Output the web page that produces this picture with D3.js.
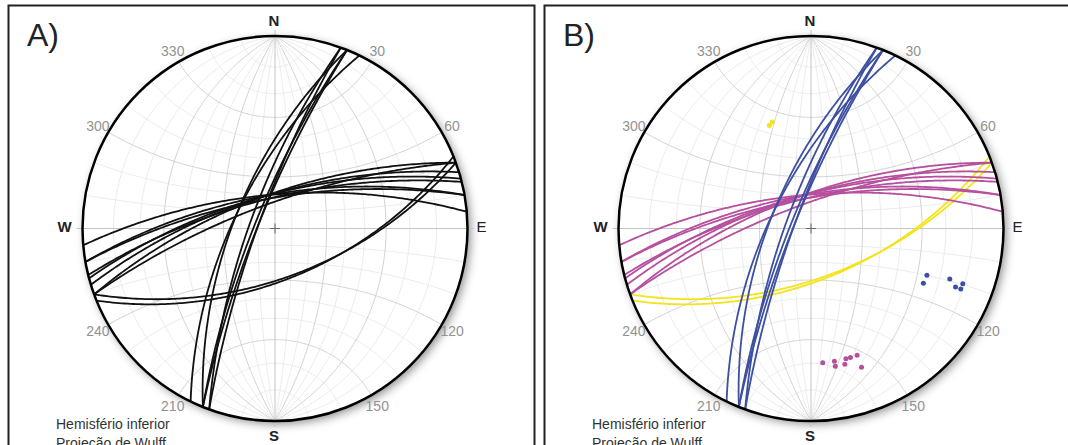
<!DOCTYPE html>
<html lang="en">
<head>
<meta charset="utf-8">
<script src="https://d3js.org/d3.v7.min.js"></script>
<style>
    body { margin: 0; background: #fff; }
    svg { display: block; font-family: "Liberation Sans", Arial, sans-serif; }
</style>
</head>
<body>
<script>
    // planes: dip direction / dip, degrees
    var blueDipDir = [296, 292, 290, 292, 292, 290];
    var blueDip = [66, 66, 75, 78, 80, 80];
    var pinkDipDir = [355, 350, 350, 345, 346, 343, 340, 340];
    var pinkDip = [70, 70, 72, 70, 72, 70, 70, 75];
    var yellowDipDir = [158, 160];
    var yellowDip = [60, 61];

    var degLabels = [30, 60, 120, 150, 210, 240, 300, 330];
    var panelLabels = ["A)", "B)"];
    var legendLines = ["Hemisfério inferior", "Projeção de Wulff"];

    var width = 1068, height = 445;
    var R = 192.5;
    var rad = Math.PI / 180;

    var svg = d3.select("body").append("svg")
        .attr("width", width)
        .attr("height", height);

    var defs = svg.append("defs");
    defs.append("filter")
        .attr("id", "shadow")
        .attr("x", "-20%").attr("y", "-20%")
        .attr("width", "140%").attr("height", "140%")
        .append("feDropShadow")
        .attr("dx", 3).attr("dy", 3)
        .attr("stdDeviation", 5)
        .attr("flood-color", "#000")
        .attr("flood-opacity", 0.45);

    // stereographic (Wulff), lower hemisphere: v = [east, north, down]
    function project(v) {
        var k = 1 + v[2];
        return [v[0] / k, v[1] / k];
    }

    function planeCurve(dd, dip) {
        var s = (dd - 90) * rad, a = dd * rad, d = dip * rad;
        var S = [Math.sin(s), Math.cos(s), 0];
        var D = [Math.cos(d) * Math.sin(a), Math.cos(d) * Math.cos(a), Math.sin(d)];
        return d3.range(0, 180.5, 1).map(function (t) {
            var c = Math.cos(t * rad), sn = Math.sin(t * rad);
            return project([c * S[0] + sn * D[0], c * S[1] + sn * D[1], c * S[2] + sn * D[2]]);
        });
    }

    // small circle around the N-S axis, alpha = angle from N
    function smallCircle(alpha) {
        var a = alpha * rad;
        return d3.range(0, 180.5, 1).map(function (p) {
            p = p * rad;
            return project([Math.sin(a) * Math.cos(p), Math.cos(a), Math.sin(a) * Math.sin(p)]);
        });
    }

    function pole(dd, dip) {
        var tr = (dd + 180) * rad, pl = (90 - dip) * rad;
        return project([Math.sin(tr) * Math.cos(pl), Math.cos(tr) * Math.cos(pl), Math.sin(pl)]);
    }

    function zipPlanes(dds, dips) {
        return dds.map(function (d, i) { return { dd: d, dip: dips[i] }; });
    }

    var sets = [
        { planes: zipPlanes(yellowDipDir, yellowDip), color: "#f3e41b" },
        { planes: zipPlanes(pinkDipDir, pinkDip), color: "#b64f9e" },
        { planes: zipPlanes(blueDipDir, blueDip), color: "#3c4fa1" }
    ];

    // panel frames
    svg.append("rect").attr("x", 8.5).attr("y", 5.5).attr("width", 526).attr("height", 500)
        .attr("fill", "none").attr("stroke", "#222").attr("stroke-width", 2);
    svg.append("rect").attr("x", 544.5).attr("y", 5.5).attr("width", 600).attr("height", 500)
        .attr("fill", "none").attr("stroke", "#222").attr("stroke-width", 2);

    function drawNet(cx, cy, idx, colored) {
        var x = d3.scaleLinear().domain([-1, 1]).range([cx - R, cx + R]);
        var y = d3.scaleLinear().domain([-1, 1]).range([cy + R, cy - R]);
        var line = d3.line().x(function (d) { return x(d[0]); }).y(function (d) { return y(d[1]); });
        var g = svg.append("g");

        g.append("text").attr("x", cx - 248).attr("y", 46)
            .attr("font-size", 32).attr("fill", "#222")
            .text(panelLabels[idx]);

        g.append("circle").attr("cx", cx).attr("cy", cy).attr("r", R)
            .attr("fill", "#fff").attr("filter", "url(#shadow)");

        var grid = [];
        d3.range(10, 90, 10).forEach(function (k) {
            var major = k % 30 === 0;
            grid.push({ pts: planeCurve(90, k), major: major });
            grid.push({ pts: planeCurve(270, k), major: major });
            grid.push({ pts: smallCircle(k), major: major });
            grid.push({ pts: smallCircle(180 - k), major: major });
        });
        g.selectAll(".minor").data(grid.filter(function (d) { return !d.major; }))
            .enter().append("path")
            .attr("d", function (d) { return line(d.pts); })
            .attr("fill", "none").attr("stroke", "#e6e6e6").attr("stroke-width", 0.8);
        g.selectAll(".major").data(grid.filter(function (d) { return d.major; }))
            .enter().append("path")
            .attr("d", function (d) { return line(d.pts); })
            .attr("fill", "none").attr("stroke", "#cdcdcd").attr("stroke-width", 0.9);

        // diameters, extended a little as ticks
        var ext = 1 + 6 / R;
        g.append("line").attr("x1", x(-ext)).attr("x2", x(ext)).attr("y1", y(0)).attr("y2", y(0))
            .attr("stroke", "#c4c4c4").attr("stroke-width", 1);
        g.append("line").attr("x1", x(0)).attr("x2", x(0)).attr("y1", y(-ext)).attr("y2", y(ext))
            .attr("stroke", "#c4c4c4").attr("stroke-width", 1);

        // centre cross
        g.append("line").attr("x1", cx - 5).attr("x2", cx + 5).attr("y1", cy).attr("y2", cy)
            .attr("stroke", "#666").attr("stroke-width", 1);
        g.append("line").attr("x1", cx).attr("x2", cx).attr("y1", cy - 5).attr("y2", cy + 5)
            .attr("stroke", "#666").attr("stroke-width", 1);

        sets.forEach(function (set) {
            g.selectAll(null).data(set.planes).enter().append("path")
                .attr("d", function (d) { return line(planeCurve(d.dd, d.dip)); })
                .attr("fill", "none")
                .attr("stroke", colored ? set.color : "#111")
                .attr("stroke-width", 1.8);
        });

        if (colored) {
            sets.forEach(function (set) {
                g.selectAll(null).data(set.planes).enter().append("circle")
                    .attr("cx", function (d) { return x(pole(d.dd, d.dip)[0]); })
                    .attr("cy", function (d) { return y(pole(d.dd, d.dip)[1]); })
                    .attr("r", 2.5)
                    .attr("fill", set.color);
            });
        }

        g.append("circle").attr("cx", cx).attr("cy", cy).attr("r", R)
            .attr("fill", "none").attr("stroke", "#000").attr("stroke-width", 2.5);

        g.selectAll(".deg").data(degLabels).enter().append("text")
            .attr("x", function (d) { return cx + (R + 12) * Math.sin(d * rad); })
            .attr("y", function (d) { return cy - (R + 12) * Math.cos(d * rad); })
            .attr("dy", "0.35em")
            .attr("text-anchor", "middle")
            .attr("font-size", 14)
            .attr("fill", "#929292")
            .text(function (d) { return d; });

        g.append("text").attr("x", cx - 1).attr("y", cy - R - 10).attr("text-anchor", "middle")
            .attr("font-size", 15).attr("font-weight", "bold").attr("fill", "#222").text("N");
        g.append("text").attr("x", cx - 1).attr("y", cy + R + 20).attr("text-anchor", "middle")
            .attr("font-size", 15).attr("font-weight", "bold").attr("fill", "#222").text("S");
        g.append("text").attr("x", cx - R - 18).attr("y", cy + 3.5).attr("text-anchor", "middle")
            .attr("font-size", 15).attr("font-weight", "bold").attr("fill", "#222").text("W");
        g.append("text").attr("x", cx + R + 14).attr("y", cy + 3.5).attr("text-anchor", "middle")
            .attr("font-size", 15).attr("fill", "#222").text("E");

        g.selectAll(".legend").data(legendLines).enter().append("text")
            .attr("x", cx - 219)
            .attr("y", function (d, i) { return 429 + i * 19; })
            .attr("font-size", 14)
            .attr("fill", "#333")
            .text(function (d) { return d; });
    }

    drawNet(275, 228.5, 0, false);
    drawNet(811, 228.5, 1, true);
</script>
</body>
</html>
